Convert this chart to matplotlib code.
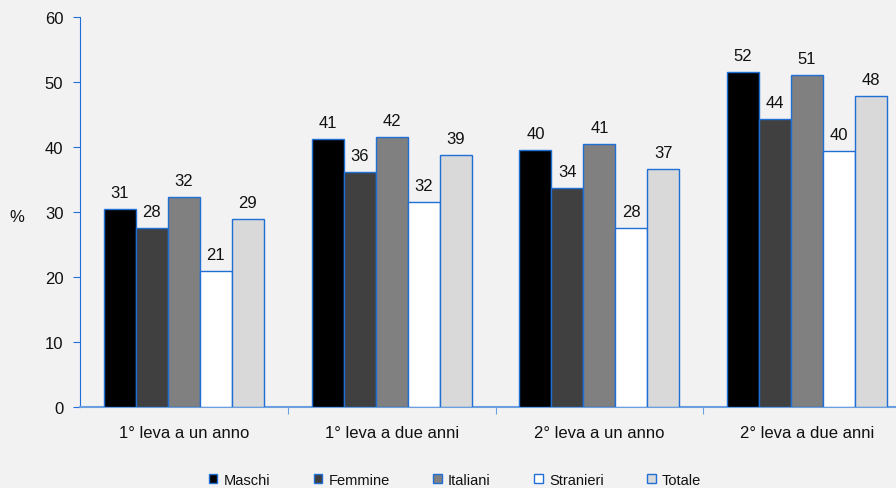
import matplotlib
matplotlib.use("Agg")
import matplotlib.pyplot as plt
from matplotlib.patches import Patch
import numpy as np

plt.rcParams['font.family'] = ['Liberation Sans', 'DejaVu Sans']

categories = ["1° leva a un anno", "1° leva a due anni", "2° leva a un anno", "2° leva a due anni"]
series = ["Maschi", "Femmine", "Italiani", "Stranieri", "Totale"]
maschi    = [30.5, 41.2, 39.5, 51.5]
femmine   = [27.5, 36.2, 33.7, 44.3]
italiani  = [32.3, 41.5, 40.5, 51.1]
stranieri = [20.9, 31.5, 27.5, 39.4]
totale    = [28.9, 38.8, 36.6, 47.8]
labels_maschi    = [31, 41, 40, 52]
labels_femmine   = [28, 36, 34, 44]
labels_italiani  = [32, 42, 41, 51]
labels_stranieri = [21, 32, 28, 40]
labels_totale    = [29, 39, 37, 48]
yticks = [0, 10, 20, 30, 40, 50, 60]

values = [maschi, femmine, italiani, stranieri, totale]
labels = [labels_maschi, labels_femmine, labels_italiani, labels_stranieri, labels_totale]
colors = ["#000000", "#404040", "#808080", "#FFFFFF", "#D9D9D9"]
edge = "#1F6FD6"
bg = "#F2F2F2"
tc = "#111111"

W, H = 896, 489
fig = plt.figure(figsize=(W/100, H/100), dpi=100, facecolor=bg)
x0, x1 = 80, 911
y0, y1 = 408, 18
ax = fig.add_axes([x0/W, 1 - y0/H, (x1-x0)/W, (y0-y1)/H], facecolor=bg)

bw = 32/208
x = np.arange(len(categories)) + 0.5
for i, (vals, labs, c) in enumerate(zip(values, labels, colors)):
    pos = x + (i - 2) * bw
    ax.bar(pos, vals, width=bw, color=c, edgecolor=edge, linewidth=1.0, label=series[i], zorder=3)
    for p, v, l in zip(pos, vals, labs):
        ax.text(p, v + 1.4, str(l), ha='center', va='bottom', fontsize=12, color=tc)

ax.set_xlim(0, 4)
ax.set_ylim(0, 60)
ax.set_yticks(yticks)
ax.tick_params(axis='y', direction='out', length=5, color=edge, labelsize=12, pad=7, labelcolor=tc)
ax.set_xticks([1, 2, 3])
ax.set_xticklabels([])
ax.tick_params(axis='x', direction='out', length=5, color="#6A9FE0")
for xc, cat in zip(x, categories):
    ax.text(xc, -2.8, cat, ha='center', va='top', fontsize=12, color=tc)
for s in ['top', 'right']:
    ax.spines[s].set_visible(False)
ax.spines['left'].set_color(edge)
ax.spines['bottom'].set_color("#6A9FE0")
ax.spines['bottom'].set_linewidth(1.5)

fig.text(17/W, 1 - 218/H, "%", ha='center', va='center', fontsize=12, color=tc)

handles = [Patch(facecolor=c, edgecolor=edge, linewidth=1.0) for c in colors]
leg = fig.legend(handles, series, loc='center', bbox_to_anchor=(455/W, 1 - 481/H), ncol=5,
                 frameon=False, fontsize=10.5, handlelength=0.6, handleheight=0.6,
                 handletextpad=0.4, columnspacing=3.0)
for t in leg.get_texts():
    t.set_color(tc)

fig.savefig("out.png", dpi=100, facecolor=bg)
